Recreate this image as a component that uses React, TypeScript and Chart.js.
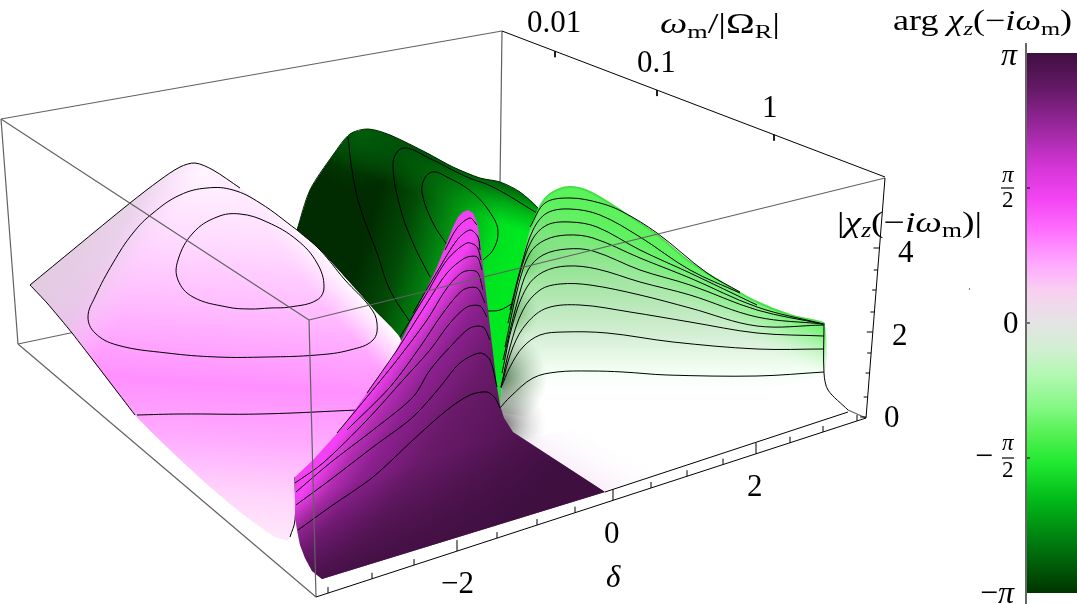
import React, { useEffect, useRef } from "react";
import { Chart, registerables } from "chart.js";
Chart.register(...registerables);

const W = 1077, H = 604;
type P = number[];

const boxBack: P[][] = [
  [[1,119],[502,31]], [[502,31],[500,185]], [[18,344],[75,332]], [[1,119],[18,344]],
];
const greenOutline: P[] = [[297,230],[310,190],[333,155],[350,134],[368,129],[390,135],[427,153],[453,167],[480,178],[500,182],[520,192],[538,208],[560,300],[500,410],[420,360],[398,338]];
const greenEdge: P[] = [[297,230],[310,190],[333,155],[350,134],[368,129],[390,135],[427,153],[453,167],[480,178],[500,182],[520,192],[538,208]];
const greenContours: P[][] = [
  [[348,137],[352,170],[360,207],[377,253],[390,290],[410,322]],
  [[537,213],[493,187],[467,177],[427,157],[407,148],[397,152],[393,167],[400,207],[413,243],[430,277]],
  [[447,245],[433,223],[423,197],[423,182],[432,172],[447,177],[473,193],[493,217],[498,233],[493,250],[483,260]],
  [[488,311],[500,310],[513,303]],
];
const pinkOutline: P[] = [[30,285],[75,248],[130,203],[160,180],[180,167],[195,163],[213,170],[240,188],[267,207],[297,230],[320,250],[350,283],[377,313],[400,338],[420,440],[300,500],[295,525],[288,540],[275,537],[245,516],[210,487],[170,450],[135,415],[72,333],[47,303]];
const pinkEdge: P[] = [[30,285],[75,248],[130,203],[160,180],[180,167],[195,163],[213,170],[240,188]];
const pinkLowerEdge: P[] = [[30,285],[47,303],[72,333],[135,415]];
const pinkContours: P[][] = [
  [[297,230],[320,250],[345,280],[370,307],[377,323],[373,340],[350,350],[317,355],[267,357],[217,357],[167,353],[117,345],[95,333],[88,317],[95,297],[113,263],[133,233],[153,213],[180,195],[207,188],[233,190],[260,203],[297,230]],
  [[270,308],[290,307],[317,300],[324,287],[317,263],[297,240],[267,222],[240,214],[217,217],[193,233],[178,260],[178,280],[193,297],[227,307],[250,309],[270,308]],
  [[137,415],[180,414],[260,414],[358,410]],
  [[295,477],[295,520],[290,537]],
];
const faceOutline: P[] = [[500,412],[502,383],[510,330],[520,270],[530,230],[542,203],[553,192],[570,187],[590,192],[623,212],[657,235],[690,262],[723,283],[757,302],[790,315],[824,323],[824,373],[757,390],[650,395],[590,400],[540,420]];
const faceRidge: P[] = [[530,230],[542,203],[553,192],[570,187],[590,192],[623,212],[657,235],[690,262],[723,283],[757,302],[790,315],[824,323]];
const faceContours: P[][] = [
  [[500,408],[510,397],[533,378],[557,372],[590,371],[623,372],[667,375],[757,376],[824,372]],
  [[501,388],[510,367],[523,347],[540,335],[563,332],[607,333],[673,342],[757,349],[824,349]],
  [[501,387],[513,347],[527,323],[547,308],[580,305],[630,312],[690,322],[757,333],[824,336]],
  [[501,387],[510,347],[523,310],[540,290],[560,284],[590,285],[640,295],[690,308],[757,326],[824,325]],
  [[502,373],[513,323],[527,287],[543,272],[567,266],[597,269],[640,282],[690,295],[757,317],[823,324]],
  [[503,360],[517,303],[528,270],[543,255],[567,249],[593,251],[640,270],[690,285],[757,310],[823,324]],
  [[505,347],[518,287],[530,253],[545,240],[567,235],[593,238],[640,258],[690,278],[757,307],[823,324]],
  [[508,323],[520,273],[532,240],[547,225],[570,222],[597,227],[640,250],[690,273],[757,305]],
  [[510,310],[522,263],[533,230],[547,213],[570,209],[600,215],[640,237],[690,270],[740,293]],
  [[530,227],[545,203],[570,198],[600,203],[623,212],[657,233],[707,273],[740,292]],
];
const faceRightEdge: P[] = [[824,323],[824,373],[828,390],[848,410]];
const shadowPatch: P[] = [[490,370],[490,430],[513,440],[560,475],[600,420],[570,365]];
const floorPatch: P[] = [[525,440],[605,492],[660,474],[590,425]];
const purpleOutline: P[] = [[295,477],[313,460],[340,430],[367,393],[393,357],[413,317],[437,267],[453,227],[458,217],[463,212],[468,210],[473,213],[477,222],[480,240],[483,267],[490,327],[497,387],[500,405],[504,418],[513,432],[605,492],[322,579],[312,571],[305,558],[300,545],[297,530],[295,517]];
const purpleContours: P[][] = [
  [[298,530],[330,507],[373,477],[413,440],[447,410],[470,395],[487,392],[495,398],[500,408]],
  [[296,505],[330,480],[373,447],[413,417],[440,387],[460,363],[480,353],[490,360],[497,387]],
  [[296,492],[330,463],[373,430],[413,397],[430,370],[450,347],[470,328],[483,327],[490,340]],
  [[295,483],[323,463],[367,420],[403,380],[430,350],[450,323],[467,307],[480,306],[487,317]],
  [[347,430],[390,387],[420,347],[443,313],[463,290],[477,288],[485,303]],
  [[337,433],[367,397],[397,360],[427,320],[447,288],[463,272],[477,272],[483,290]],
  [[367,393],[397,350],[427,303],[447,273],[465,258],[477,257],[482,270]],
  [[400,337],[427,293],[447,260],[467,243],[477,247],[481,260]],
  [[413,313],[437,272],[457,240],[470,230],[478,237],[480,250]],
  [[445,250],[457,228],[470,218],[477,225]],
];
const boxFront: P[][] = [
  [[1,119],[309,320]], [[309,320],[885,178]], [[309,320],[316,597]], [[18,344],[316,597]], [[848,410],[866,418]],
];
const axisLines: P[][] = [
  [[316,597],[866,418]], [[885,178],[866,418]], [[605,492],[848,412]], [[502,31],[885,177]],
];
const deltaTicks = [328,372,414,457,497,537,575,613,651,687,723,756,790,823,857];
const deltaMajor = [457,613,756];
const zTicks = [248,270,290,312,332,353,373,397,417];
const zMajor = [248,332,417];
const omegaTicks = [555,657,774];
const barBox: P[] = [[1027,53],[1077,53],[1077,593],[1027,593]];
const barAxis: P[] = [[1026,43],[1026,604]];
const barTicks = [188,323,458];
const stray: P[] = [[969,289],[970,289]];

const barStops: [number,string][] = [[0,"#3f0f40"],[0.07,"#671a6a"],[0.15,"#a42aa8"],[0.21,"#d435d6"],[0.27,"#f444f4"],[0.33,"#ff70ff"],[0.39,"#ffa8ff"],[0.44,"#f8cff0"],[0.5,"#e4e4e4"],[0.55,"#d0f0d0"],[0.6,"#b0f8b0"],[0.66,"#80f880"],[0.71,"#50f050"],[0.76,"#20e830"],[0.83,"#00b818"],[0.9,"#008010"],[1,"#003500"]];

type Run = { t: string; i?: boolean; sub?: boolean };
type Label = { x: number; y: number; s: number; w?: number; runs: Run[] };
const labels: Label[] = [
  { x: 527, y: 32, s: 31, runs: [{ t: "0.01" }] },
  { x: 637, y: 72, s: 31, runs: [{ t: "0.1" }] },
  { x: 762, y: 117, s: 31, runs: [{ t: "1" }] },
  { x: 660, y: 33, s: 29, w: 120, runs: [{ t: "ω", i: true }, { t: "m", sub: true }, { t: "/|Ω" }, { t: "R", sub: true }, { t: "|" }] },
  { x: 837, y: 232, s: 30, w: 145, runs: [{ t: "|" }, { t: "χ", i: true }, { t: "z", i: true, sub: true }, { t: "(−" }, { t: "iω", i: true }, { t: "m", sub: true }, { t: ")|" }] },
  { x: 893, y: 30, s: 29, w: 179, runs: [{ t: "arg " }, { t: "χ", i: true }, { t: "z", i: true, sub: true }, { t: "(−" }, { t: "iω", i: true }, { t: "m", sub: true }, { t: ")" }] },
  { x: 898, y: 262, s: 31, runs: [{ t: "4" }] },
  { x: 892, y: 345, s: 31, runs: [{ t: "2" }] },
  { x: 884, y: 427, s: 31, runs: [{ t: "0" }] },
  { x: 747, y: 496, s: 31, runs: [{ t: "2" }] },
  { x: 604, y: 543, s: 31, runs: [{ t: "0" }] },
  { x: 441, y: 593, s: 31, runs: [{ t: "−2" }] },
  { x: 606, y: 587, s: 31, runs: [{ t: "δ", i: true }] },
  { x: 1001, y: 65, s: 32, runs: [{ t: "π", i: true }] },
  { x: 1002, y: 182, s: 23, runs: [{ t: "π", i: true }] },
  { x: 1002, y: 207, s: 23, runs: [{ t: "2" }] },
  { x: 1003, y: 333, s: 31, runs: [{ t: "0" }] },
  { x: 975, y: 466, s: 32, runs: [{ t: "−" }] },
  { x: 1002, y: 450, s: 23, runs: [{ t: "π", i: true }] },
  { x: 1002, y: 477, s: 23, runs: [{ t: "2" }] },
  { x: 980, y: 603, s: 32, runs: [{ t: "−" }, { t: "π", i: true }] },
];
const fractionBars: P[][] = [[[1001,188],[1014,188]], [[1002,458],[1014,458]]];

const FONT = '"Liberation Serif", serif';
const fontOf = (r: Run, s: number) => `${r.i ? "italic " : ""}${r.sub ? s * 0.68 : s}px ${FONT}`;
const textPlugin = {
  id: "mathText",
  afterDatasetsDraw(chart: any) {
    const { ctx, scales } = chart;
    ctx.save();
    ctx.fillStyle = "#000";
    ctx.textBaseline = "alphabetic";
    for (const l of labels) {
      let natural = 0;
      for (const r of l.runs) { ctx.font = fontOf(r, l.s); natural += ctx.measureText(r.t).width; }
      const sx = l.w ? l.w / natural : 1;
      let px = scales.x.getPixelForValue(l.x);
      const py = scales.y.getPixelForValue(l.y);
      for (const r of l.runs) {
        ctx.font = fontOf(r, l.s);
        ctx.save();
        ctx.translate(px, py + (r.sub ? l.s * 0.18 : 0));
        ctx.scale(sx, 1);
        ctx.fillText(r.t, 0, 0);
        ctx.restore();
        px += ctx.measureText(r.t).width * sx;
      }
    }
    ctx.restore();
  },
};

const xy = (a: P[]) => a.map(([x, y]) => ({ x, y }));

export default function App() {
  const ref = useRef<HTMLCanvasElement>(null);
  useEffect(() => {
    document.body.style.margin = "0";
    document.body.style.background = "#fff";
    const canvas = ref.current!;
    const ctx = canvas.getContext("2d")!;
    const grad = (x0: number, y0: number, x1: number, y1: number, stops: [number, string][]) => {
      const g = ctx.createLinearGradient(x0, y0, x1, y1);
      stops.forEach(([o, c]) => g.addColorStop(o, c));
      return g;
    };
    const glow = (x: number, y: number, r: number, inner: string, outer: string) => {
      const g = ctx.createRadialGradient(x, y, 2, x, y, r);
      g.addColorStop(0, inner);
      g.addColorStop(1, outer);
      return g;
    };
    const layers: any[] = [];
    const line = (pts: P[], color: string, width = 1, tension = 0) =>
      layers.push({ data: xy(pts), showLine: true, fill: false, borderColor: color, borderWidth: width, pointRadius: 0, tension });
    const shape = (pts: P[], bg: any, tension = 0.15) =>
      layers.push({ data: xy(pts), showLine: true, fill: "shape", backgroundColor: bg, borderWidth: 0, borderColor: "rgba(0,0,0,0)", pointRadius: 0, tension });

    boxBack.forEach((s) => line(s, "#626262", 1.2));

    shape(greenOutline, grad(375, 205, 515, 245, [[0, "#012c01"], [0.25, "#024a06"], [0.45, "#027a0e"], [0.65, "#00b014"], [0.85, "#00e020"], [1, "#00e820"]]));
    shape(greenOutline, grad(482, 176, 462, 232, [[0, "rgba(0,85,8,0.95)"], [0.3, "rgba(0,110,10,0.45)"], [0.65, "rgba(0,130,12,0)"]]));
    shape(greenOutline, glow(362, 128, 62, "rgba(0,95,10,0.95)", "rgba(0,70,8,0)"));
    line(greenEdge, "#012a01", 1, 0.3);
    greenContours.forEach((c) => line(c, "#000", 1, 0.4));

    shape(pinkOutline, grad(230, 175, 205, 535, [[0, "#fff4ff"], [0.18, "#ffdcff"], [0.38, "#ffbaff"], [0.58, "#ff90ff"], [0.72, "#ffa8ff"], [0.88, "#ffd4fb"], [1, "#ffe8fa"]]));
    shape(pinkOutline, grad(40, 250, 130, 300, [[0, "rgba(222,205,220,1)"], [0.6, "rgba(225,205,225,0.7)"], [1, "rgba(255,205,255,0)"]]));
    shape(pinkOutline, grad(350, 283, 324, 306, [[0, "rgba(255,250,255,1)"], [0.5, "rgba(255,235,255,0.6)"], [1, "rgba(255,220,255,0)"]]));
    line(pinkEdge, "#000", 1, 0.3);
    line(pinkLowerEdge, "#000", 1, 0.2);
    pinkContours.forEach((c) => line(c, "#000", 1, 0.4));

    shape(faceOutline, grad(570, 187, 570, 392, [[0, "#62dc62"], [0.23, "#76e076"], [0.4, "#96e496"], [0.56, "#b6e8b6"], [0.73, "#d6efd6"], [0.9, "#f4fff4"], [1, "#ffffff"]]));
    shape(faceOutline, grad(757, 296, 738, 337, [[0, "rgba(90,245,90,0.85)"], [0.5, "rgba(110,250,110,0.32)"], [1, "rgba(200,255,200,0)"]]));
    shape(faceOutline, glow(495, 378, 52, "rgba(30,80,30,0.85)", "rgba(120,160,120,0)"));
    shape(faceOutline, glow(505, 312, 34, "rgba(40,130,40,0.7)", "rgba(120,190,120,0)"));
    shape(faceOutline, glow(520, 258, 26, "rgba(40,170,40,0.6)", "rgba(120,220,120,0)"));
    shape(shadowPatch, glow(500, 425, 46, "rgba(80,80,80,0.85)", "rgba(200,200,200,0)"), 0);
    shape(floorPatch, grad(585, 492, 615, 440, [[0, "rgba(245,225,245,0.8)"], [1, "rgba(255,255,255,0)"]]), 0);
    line(faceRidge, "#45e045", 2, 0.3);
    faceContours.forEach((c) => line(c, "#000", 1, 0.35));
    line(faceRightEdge, "#000", 1, 0.3);

    shape(purpleOutline, grad(393, 357, 559, 468, [[0, "#f440f4"], [0.04, "#d838d8"], [0.1, "#b02cb0"], [0.2, "#8c2090"], [0.4, "#6a1a6a"], [1, "#3f0f40"]]), 0);
    shape(purpleOutline, grad(360, 480, 385, 560, [[0, "rgba(63,15,64,0)"], [1, "rgba(63,15,64,0.85)"]]), 0);
    purpleContours.forEach((c) => line(c, "#000", 1, 0.3));

    boxFront.forEach((s) => line(s, "#626262", 1.2));
    axisLines.forEach((s) => line(s, "#000"));
    const axisY = (x: number) => 597 - ((x - 316) * 179) / 550;
    deltaTicks.forEach((x) => { const len = deltaMajor.includes(x) ? 11 : 6; line([[x, axisY(x)], [x, axisY(x) - len]], "#000"); });
    const axisX = (y: number) => 885 - ((y - 178) * 19) / 240;
    zTicks.forEach((y) => { const len = zMajor.includes(y) ? 6 : 4; line([[axisX(y), y], [axisX(y) - len, y]], "#000"); });
    const topY = (x: number) => 31 + ((x - 502) * 146) / 383;
    omegaTicks.forEach((x) => line([[x, topY(x)], [x, topY(x) + 6]], "#000"));

    shape(barBox, grad(0, 53, 0, 593, barStops), 0);
    line(barAxis, "#000", 1.2);
    barTicks.forEach((y) => line([[1027, y], [1030, y]], "#000"));
    fractionBars.forEach((b) => line(b, "#000", 1.2));
    line(stray, "#000");

    const chart = new Chart(canvas, {
      type: "scatter",
      data: { datasets: layers.reverse() },
      options: {
        animation: false,
        responsive: false,
        events: [],
        layout: { padding: 0 },
        plugins: { legend: { display: false }, tooltip: { enabled: false } },
        scales: {
          x: { type: "linear", min: 0, max: W, display: false },
          y: { type: "linear", min: 0, max: H, reverse: true, display: false },
        },
      },
      plugins: [textPlugin],
    } as any);
    return () => chart.destroy();
  }, []);
  return <canvas ref={ref} width={W} height={H} style={{ display: "block" }} />;
}
